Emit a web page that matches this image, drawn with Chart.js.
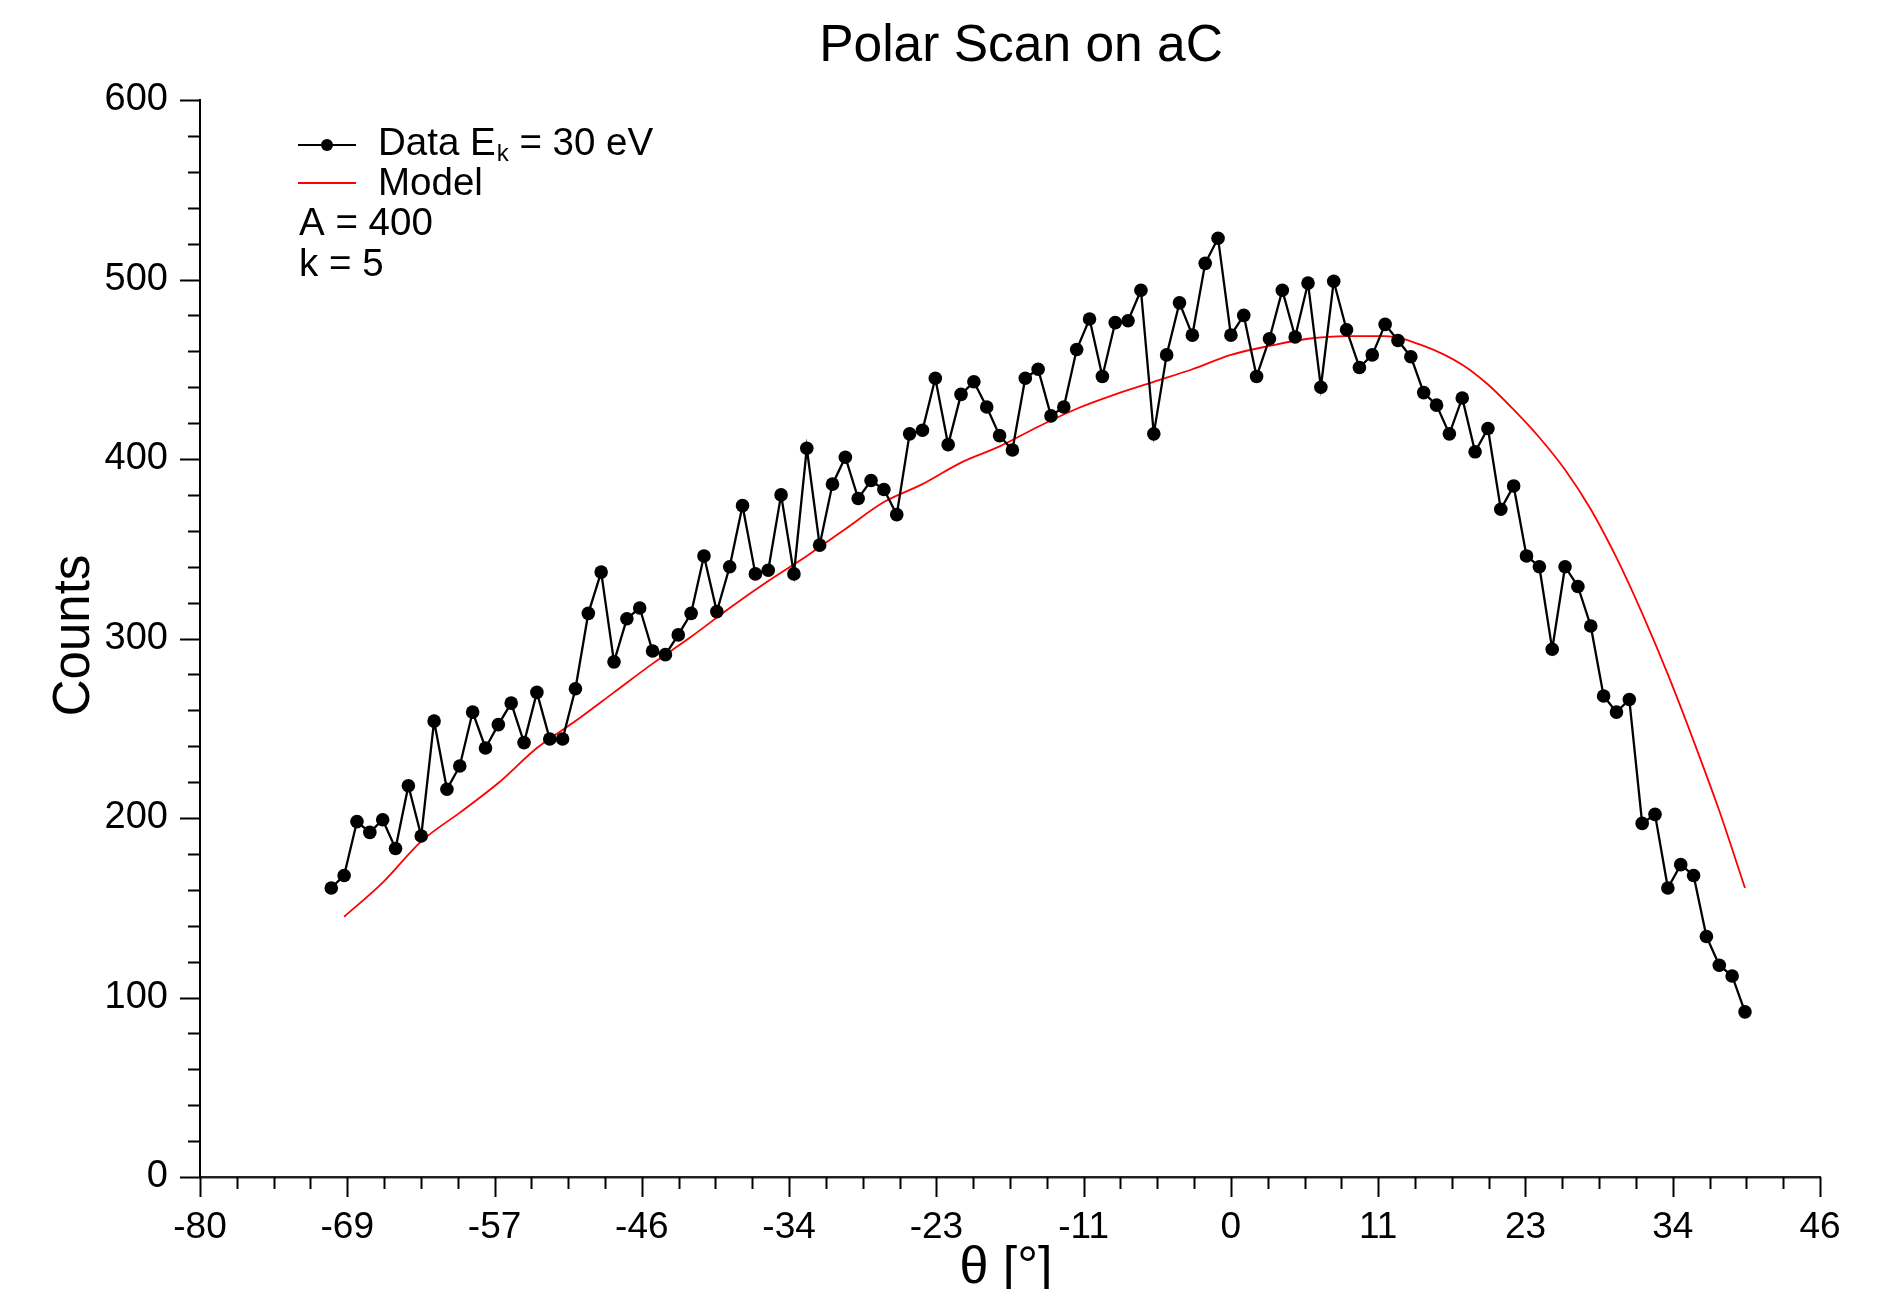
<!DOCTYPE html>
<html>
<head>
<meta charset="utf-8">
<script src="https://cdn.jsdelivr.net/npm/chart.js@4.4.0/dist/chart.umd.min.js"></script>
<style>
html,body{margin:0;padding:0;background:#ffffff;overflow:hidden}
canvas{display:block}
</style>
</head>
<body>
<canvas id="c" width="1881" height="1289" style="width:1881px;height:1289px"></canvas>
<script>
// ---------------- data ----------------
const chartTitle = 'Polar Scan on aC';
const xAxisTitle = 'θ [°]';
const yAxisTitle = 'Counts';
const dataLabelMain = 'Data E';
const dataLabelSub = 'k';
const dataLabelTail = ' = 30 eV';
const modelLabel = 'Model';
const paramLines = ['A = 400', 'k = 5'];

const thetaDeg = [-70,-69,-68,-67,-66,-65,-64,-63,-62,-61,-60,-59,-58,-57,-56,-55,-54,-53,-52,-51,
  -50,-49,-48,-47,-46,-45,-44,-43,-42,-41,-40,-39,-38,-37,-36,-35,-34,-33,-32,-31,
  -30,-29,-28,-27,-26,-25,-24,-23,-22,-21,-20,-19,-18,-17,-16,-15,-14,-13,-12,-11,
  -10,-9,-8,-7,-6,-5,-4,-3,-2,-1,0,1,2,3,4,5,6,7,8,9,
  10,11,12,13,14,15,16,17,18,19,20,21,22,23,24,25,26,27,28,29,
  30,31,32,33,34,35,36,37,38,39,40];

const counts = [161,168,198,192,199,183,218,190,254,216,
  229,259,239,252,264,242,270,244,244,272,
  314,337,287,311,317,293,291,302,314,346,
  315,340,374,336,338,380,336,406,352,386,
  401,378,388,383,369,414,416,445,408,436,
  443,429,413,405,445,450,424,429,461,478,
  446,476,477,494,414,458,487,469,509,523,
  469,480,446,467,494,468,498,440,499,472,
  451,458,475,466,457,437,430,414,434,404,
  417,372,385,346,340,294,340,329,307,268,
  259,266,197,202,161,174,168,134,118,112,92];

const modelTheta = [-69,-66,-63,-60,-57,-54,-51,-48,-45,-42,-39,-36,-33,-30,-27,-24,-21,-18,-15,-12,
  -9,-6,-3,0,3,6,9,12,15,18,20,22,24,26,28,30,32,34,36,38,40];
const modelCounts = [145,164,187,203,219.5,239,254,270,286,301,317,332,346,361,376,386,398,407,418,428,
  436,443,450,458,463,467,468.5,468.5,463,452.5,441.5,427.5,412,394,372,345,314,280,243,204,161];

// axis range: -1.4 rad .. 0.8 rad expressed in degrees
const xMin = -80.214, xMax = 45.837;
const xMajorDivs = 11, xMinorDivs = 4;
const yMin = 0, yMax = 600, yMajorStep = 100, yMinorStep = 20;

// ---------------- styling ----------------
const FONT = "'Liberation Sans', Arial, Helvetica, sans-serif";
const RED = 'rgb(255,0,0)';

const decorPlugin = {
  id: 'decor',
  afterDraw(chart) {
    const ctx = chart.ctx;
    const xs = chart.scales.x, ys = chart.scales.y;
    const a = chart.chartArea;
    ctx.save();
    // tick marks (outward)
    ctx.strokeStyle = '#000';
    ctx.lineWidth = 2;
    xs.ticks.forEach((t, i) => {
      const px = Math.round(xs.getPixelForValue(t.value)) + 0.5;
      const len = (i % xMinorDivs === 0) ? 20 : 12;
      ctx.beginPath(); ctx.moveTo(px, a.bottom); ctx.lineTo(px, a.bottom + len); ctx.stroke();
    });
    ys.ticks.forEach(t => {
      const py = Math.round(ys.getPixelForValue(t.value)) + 0.5;
      const len = (Math.round(t.value) % yMajorStep === 0) ? 20 : 12;
      ctx.beginPath(); ctx.moveTo(a.left - len, py); ctx.lineTo(a.left, py); ctx.stroke();
    });

    // title
    ctx.fillStyle = '#000';
    ctx.textBaseline = 'alphabetic';
    ctx.textAlign = 'center';
    ctx.font = '51.5px ' + FONT;
    ctx.fillText(chartTitle, (a.left + a.right) / 2 + 11, 61);

    // x axis title
    ctx.font = '52px ' + FONT;
    ctx.fillText(xAxisTitle, (a.left + a.right) / 2 - 4, 1283);

    // y axis title
    ctx.save();
    ctx.translate(89, (a.top + a.bottom) / 2 - 3);
    ctx.rotate(-Math.PI / 2);
    ctx.font = '51px ' + FONT;
    ctx.textAlign = 'center';
    ctx.fillText(yAxisTitle, 0, 0);
    ctx.restore();

    // legend
    const lx0 = 298, lx1 = 356, tx = 378;
    ctx.textAlign = 'left';
    // data entry
    ctx.strokeStyle = '#000'; ctx.lineWidth = 2;
    ctx.beginPath(); ctx.moveTo(lx0, 145); ctx.lineTo(lx1, 145); ctx.stroke();
    ctx.fillStyle = '#000';
    ctx.beginPath(); ctx.arc((lx0 + lx1) / 2, 145, 6, 0, Math.PI * 2); ctx.fill();
    ctx.font = '38.5px ' + FONT;
    ctx.fillText(dataLabelMain, tx, 155);
    let w = ctx.measureText(dataLabelMain).width;
    ctx.font = '24px ' + FONT;
    ctx.fillText(dataLabelSub, tx + w + 1, 161);
    const wk = ctx.measureText(dataLabelSub).width;
    ctx.font = '38.5px ' + FONT;
    ctx.fillText(dataLabelTail, tx + w + wk + 1, 155);
    // model entry
    ctx.strokeStyle = RED; ctx.lineWidth = 2;
    ctx.beginPath(); ctx.moveTo(lx0, 183); ctx.lineTo(lx1, 183); ctx.stroke();
    ctx.fillText(modelLabel, tx, 195);
    // parameters
    ctx.fillText(paramLines[0], 299, 235);
    ctx.fillText(paramLines[1], 299, 276);
    ctx.restore();
  }
};

const dataPoints = thetaDeg.map((t, i) => ({ x: t, y: counts[i] }));
const modelPoints = modelTheta.map((t, i) => ({ x: t, y: modelCounts[i] }));

new Chart(document.getElementById('c'), {
  type: 'line',
  data: {
    datasets: [
      {
        label: 'Data',
        data: dataPoints,
        borderColor: '#000',
        borderWidth: 2.3,
        backgroundColor: '#000',
        pointRadius: 6.8,
        pointHoverRadius: 6.8,
        pointBackgroundColor: '#000',
        pointBorderWidth: 0,
        tension: 0,
        fill: false
      },
      {
        label: 'Model',
        data: modelPoints,
        borderColor: RED,
        borderWidth: 1.8,
        pointRadius: 0,
        cubicInterpolationMode: 'monotone',
        fill: false
      }
    ]
  },
  options: {
    responsive: false,
    devicePixelRatio: 1,
    animation: false,
    events: [],
    layout: { padding: { top: 100, right: 61, left: 0, bottom: 0 } },
    plugins: {
      legend: { display: false },
      title: { display: false },
      tooltip: { enabled: false }
    },
    scales: {
      x: {
        type: 'linear',
        position: 'bottom',
        min: xMin,
        max: xMax,
        afterBuildTicks: (scale) => {
          const n = xMajorDivs * xMinorDivs;
          const ticks = [];
          for (let i = 0; i <= n; i++) ticks.push({ value: xMin + i * (xMax - xMin) / n });
          scale.ticks = ticks;
        },
        afterFit: (scale) => { scale.height = 112; },
        grid: { display: false, drawTicks: false },
        border: { display: true, color: '#222', width: 2.5 },
        ticks: {
          autoSkip: false,
          maxRotation: 0,
          minRotation: 0,
          padding: 29,
          color: '#000',
          font: { family: FONT, size: 37 },
          callback: (v, i) => (i % xMinorDivs === 0) ? String(Math.round(v) === 0 ? 0 : Math.round(v)) : ''
        }
      },
      y: {
        type: 'linear',
        position: 'left',
        min: yMin,
        max: yMax,
        afterBuildTicks: (scale) => {
          const ticks = [];
          for (let v = yMin; v <= yMax; v += yMinorStep) ticks.push({ value: v });
          scale.ticks = ticks;
        },
        afterFit: (scale) => { scale.width = 200; },
        grid: { display: false, drawTicks: false },
        border: { display: true, color: '#000', width: 2 },
        ticks: {
          autoSkip: false,
          padding: 32,
          color: '#000',
          font: { family: FONT, size: 38 },
          callback: (v) => (Math.round(v) % yMajorStep === 0) ? String(Math.round(v)) : ''
        }
      }
    }
  },
  plugins: [decorPlugin]
});
</script>
</body>
</html>
